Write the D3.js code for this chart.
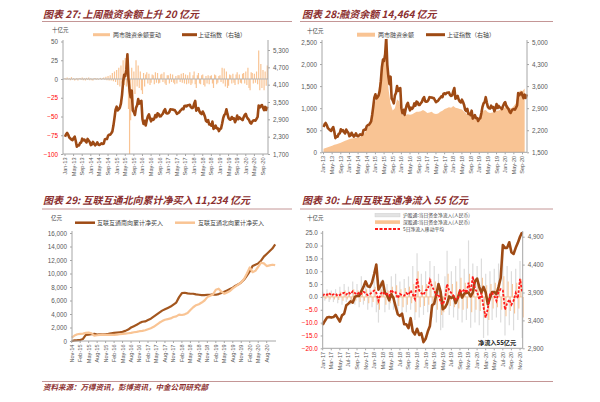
<!DOCTYPE html>
<html><head><meta charset="utf-8">
<script src="https://cdn.jsdelivr.net/npm/d3@7/dist/d3.min.js"></script>
<style>body{margin:0;background:#fff}svg{display:block}</style>
</head><body>
<svg id="c" width="600" height="402"></svg>
<script>
// ---------------- DATA ----------------
const p1Ticks = ["Jan-13","May-13","Sep-13","Jan-14","May-14","Sep-14","Jan-15","May-15","Sep-15","Jan-16","May-16","Sep-16","Jan-17","May-17","Sep-17","Jan-18","May-18","Sep-18","Jan-19","May-19","Sep-19","Jan-20","May-20","Sep-20"];
const p3Ticks = ["Nov-14","Feb-15","May-15","Aug-15","Nov-15","Feb-16","May-16","Aug-16","Nov-16","Feb-17","May-17","Aug-17","Nov-17","Feb-18","May-18","Aug-18","Nov-18","Feb-19","May-19","Aug-19","Nov-19","Feb-20","May-20","Aug-20"];
const p4Ticks = ["Jan-17","Mar-17","May-17","Jul-17","Sep-17","Nov-17","Jan-18","Mar-18","May-18","Jul-18","Sep-18","Nov-18","Jan-19","Mar-19","May-19","Jul-19","Sep-19","Nov-19","Jan-20","Mar-20","May-20","Jul-20","Sep-20","Nov-20"];

const p1LeftTicks = [50,25,0,-25,-50,-75,-100];
const p1RightTicks = [5300,4700,4100,3500,2900,2300,1700];
const p2LeftTicks = [2500,2000,1500,1000,500,0];
const p2RightTicks = [5000,4300,3600,2900,2200,1500];
const p3Ticks_y = [16000,14000,12000,10000,8000,6000,4000,2000,0];
const p4LeftTicks = [25,20,15,10,5,0,-5,-10,-15,-20];
const p4RightTicks = [4900,4400,3900,3400,2900];

// Shanghai Composite, semi-monthly, Jan-13 .. Nov-20
const shIndex = [
2300,2385,2430,2365,2270,2237,2200,2178,2250,2300,2150,1950,2000,1994,2080,2098,2230,2175,2200,2142,2100,2221,2160,2116,
2010,2033,2120,2056,2000,2033,2100,2026,2010,2039,2070,2048,2060,2202,2220,2217,2330,2364,2370,2420,2480,2683,2950,3235,
3340,3210,3250,3310,3450,3748,4200,4442,4400,4612,5150,4277,3900,3664,3900,3206,3150,3053,3300,3383,3600,3445,3520,3539,
2900,2738,2850,2688,2870,3004,3070,2938,2830,2917,2880,2930,3050,2979,3110,3085,3000,3005,3060,3100,3200,3250,3120,3104,
3110,3159,3250,3242,3240,3223,3220,3155,3090,3117,3140,3192,3230,3273,3250,3361,3370,3349,3390,3393,3400,3317,3290,3307,
3440,3540,3200,3259,3290,3169,3110,3082,3170,3095,3000,2847,2810,2876,2720,2725,2680,2821,2570,2603,2680,2588,2590,2494,
2560,2585,2750,2941,3050,3091,3250,3078,2940,2899,2890,2979,2920,2933,2800,2886,3030,2905,2970,2929,2910,2871,2970,3050,
3090,2977,2920,2880,2790,2750,2820,2860,2870,2852,2920,2985,3380,3310,3360,3396,3300,3218,3330,3225,3340];

// change of margin financing balance (十亿元), semi-monthly
const marginChg = [
1.5,-1,2,-0.5,1,-1.5,2.5,-1,1,-2,-1,1.5,-2,1,1.5,-1,2,-1.5,1,-2,1.5,-1,2,-1.5,
1,-1.5,-2,1,1.5,-1,1,-1,0.5,1.5,-1,1,2,-1,3,-1.5,4,-2,5,-2,8,-3,10,-4,
12,-8,15,-10,18,-6,25,-8,28,-10,32,-40,-100,-55,15,-30,10,-20,25,-10,18,-12,10,-15,
-20,8,-10,6,9,-6,7,-8,-5,6,5,-7,9,-5,8,-6,-5,6,7,-4,9,-6,-8,5,
5,-6,7,-4,6,-5,-7,4,-6,5,5,-4,7,-5,8,-6,6,-7,5,-6,9,-8,-6,5,
10,-7,-12,5,8,-6,-7,5,6,-8,-10,4,-6,5,-7,4,5,-6,-12,6,5,-7,-5,4,
5,-4,15,-6,14,-10,10,-12,-9,6,5,-6,7,-5,-8,6,9,-7,6,-5,-6,7,8,-6,
10,-8,15,-12,-15,9,8,-6,7,-5,10,-7,38,-15,20,-12,12,-15,10,-9,18];

// margin financing balance (十亿元), monthly Jan-13 .. Oct-20
const marginBal = [
80,95,115,130,150,170,185,200,215,240,260,280,
300,310,320,330,335,345,390,430,520,600,780,1020,
1150,1300,1600,1950,2100,2200,1450,1100,950,1000,1200,1150,
880,820,850,860,850,860,890,920,920,930,960,930,
890,900,920,880,870,880,920,940,980,1000,1020,1010,
1050,1010,1000,980,970,920,880,840,820,780,760,750,
740,850,950,960,910,890,900,910,940,950,980,990,
1020,1070,1000,1000,1050,1120,1350,1400,1390,1446];

// cumulative connect net buying (亿元), monthly Nov-14 .. Nov-20
const southCum = [0,100,
120,150,300,900,950,1000,1050,950,1000,1000,1000,1050,
1150,1200,1250,1300,1350,1500,1700,2000,2200,2400,2650,2850,
2900,3100,3300,3600,3900,4200,4500,4700,4900,5100,5400,5700,
6500,7100,7150,7050,7000,7000,6900,6850,6800,6800,6850,6850,
6900,6850,6950,7100,7300,7500,7700,7900,8200,8400,8700,9100,
9700,10300,11100,11300,11500,11900,12500,12900,13300,13700,14300];
const northCum = [500,800,
1000,1050,1100,1200,1250,1150,800,850,900,950,900,900,
900,900,950,1000,1050,1100,1150,1200,1300,1350,1450,1500,
1600,1750,1900,2100,2400,2700,2950,3150,3250,3350,3550,3650,
3900,3850,3950,4150,4600,5000,5300,5450,5700,6000,6500,6700,
6900,7600,7750,7300,7000,7200,7400,7800,8100,8400,8700,9200,
10000,10900,10200,10400,11000,11600,11500,11100,11200,11300,11234];

// daily connect flows (十亿元), semi-monthly samples Jan-17 .. Nov-20
const shConnect = [
2,-1.5,3,-2,2.5,-2,3,-2.5,4,-3,5,-2,4,-3,6,-3,5,-4,8,-3,6,-5,5,-4,
8,-6,-10,6,7,-6,5,-5,8,-5,9,-7,6,-8,7,-6,8,-5,12,-9,17,-8,9,-7,
10,-6,14,-8,12,-10,9,-13,-12,8,18,-7,10,-8,12,-9,15,-10,11,-9,22,-12,13,-10,
12,-11,15,-16,9,-15,10,-9,11,-8,13,-10,20,-15,12,-11,10,-13,11,-9,14,-16];
const szConnect = [
1,-0.8,1.5,-1,1.2,-1,1.5,-1.2,2,-1.5,2.5,-1,2,-1.5,3,-1.5,2.5,-2,3,-1.5,3,-2.5,2.5,-2,
4,-3,-5,3,3.5,-3,2.5,-2.5,4,-2.5,4.5,-3.5,3,-4,3.5,-3,4,-2.5,5,-6,10,-4,4.5,-3.5,
5,-3,7,-4,6,-5,4.5,-7,-6,4,9,-3.5,5,-4,6,-4.5,7.5,-5,5.5,-4.5,9,-6,6.5,-5,
6,-5.5,7.5,-8,4.5,-9,5,-4.5,5.5,-4,6.5,-5,8,-7.5,6,-5.5,5,-6.5,5.5,-4.5,7,-8];
const ma5 = [
0.5,1.2,0.8,1.5,0.6,1,1.2,0.4,0.8,1.3,1.6,0.9,1.8,1.1,2.2,1.5,0.9,1.8,1.2,2,1.5,0.7,1.1,1.8,
2.5,1.6,-1.5,1.2,2,0.8,1.2,0.4,2.8,1.6,1.8,-0.5,1.2,0.6,0.5,1.5,0.8,2.5,1,-0.8,7,2.5,1.5,0.8,
2.5,3,6.5,4,2.5,0.5,1,-2,-3,-1,5,2.5,1.5,0.5,-1,-0.5,2.5,1.8,3,1.5,5.5,2,8,3,
2,-1,1.5,-4,-8,-4.5,1,1.5,0.5,-1.5,2,3,2.5,-5,-2.5,-1,-3,-1.5,1.5,-0.5,7,2];
// CSI 300, semi-monthly Jan-17 .. Nov-20
const csi300 = [
3320,3390,3450,3460,3450,3460,3500,3440,3380,3490,3520,3670,3700,3740,3720,3820,3840,3840,3920,4000,4100,4010,4000,4080,
4230,4400,3950,4020,4100,3900,3850,3760,3870,3800,3650,3510,3480,3520,3330,3330,3260,3440,3200,3150,3250,3140,3170,3010,
3070,3200,3300,3670,3700,3870,4050,3910,3600,3630,3700,3830,3800,3830,3710,3800,3930,3810,3880,3890,3900,3830,3900,4100,
4150,4000,3900,4000,3900,3690,3800,3910,3910,3870,4000,4160,4750,4700,4700,4800,4620,4590,4700,4790,4900,4980];

// ---------------- DRAW ----------------
const svg = d3.select("#c");
const NUM = "'Liberation Sans', Arial, sans-serif";
const CJK = "'Noto Sans CJK SC', sans-serif";
const TITLE_C = "#8b2e2e", RULE_C = "#c49696", AXIS_C = "#a6a6a6", TXT_C = "#595959";
const BROWN = "#9e4a14", LIGHT = "#f9c494", RED = "#ff1a1a";

function title(x, y, t, lx0, lx1, ly) {
  svg.append("text").attr("x", x).attr("y", y).text(t)
    .attr("font-family", CJK).attr("font-style", "italic").attr("font-weight", "bold")
    .attr("font-size", 10).attr("fill", TITLE_C);
  svg.append("line").attr("x1", lx0).attr("x2", lx1).attr("y1", ly).attr("y2", ly)
    .attr("stroke", RULE_C).attr("stroke-width", 1);
}
function label(x, y, t, size, opts = {}) {
  return svg.append("text").attr("x", x).attr("y", y).text(t)
    .attr("font-family", opts.cjk === false ? NUM : CJK).attr("font-size", size)
    .attr("fill", opts.fill || "#404040").attr("text-anchor", opts.anchor || "start")
    .attr("font-weight", opts.weight || "normal");
}
function vline(x, y0, y1) {
  svg.append("line").attr("x1", x).attr("x2", x).attr("y1", y0).attr("y2", y1)
    .attr("stroke", AXIS_C).attr("stroke-width", 1);
}
function yAxis(x, scale, ticks, side, fmt, y0, y1, negRed) {
  const ax = (side === "left" ? d3.axisLeft(scale) : d3.axisRight(scale))
    .tickValues(ticks).tickSize(2).tickPadding(3).tickFormat(fmt);
  const g = svg.append("g").attr("transform", `translate(${x},0)`).call(ax);
  g.select(".domain").remove();
  g.selectAll("line").attr("stroke", AXIS_C);
  g.selectAll("text").attr("font-family", NUM).attr("font-size", 6.3)
    .attr("fill", d => (negRed && d < 0) ? "#ff0000" : TXT_C);
  vline(x, y0, y1);
}
function xAxis(y, x0, x1, scale, vals, labels) {
  svg.append("line").attr("x1", x0).attr("x2", x1).attr("y1", y).attr("y2", y)
    .attr("stroke", AXIS_C).attr("stroke-width", 1);
  const g = svg.append("g");
  vals.forEach((v, i) => {
    const x = scale(v);
    g.append("line").attr("x1", x).attr("x2", x).attr("y1", y).attr("y2", y + 2)
      .attr("stroke", AXIS_C);
    g.append("text").attr("transform", `translate(${x},${y + 3.5}) rotate(-90)`)
      .attr("text-anchor", "end").attr("dy", "0.35em").text(labels[i])
      .attr("font-family", NUM).attr("font-size", 5.6).attr("fill", TXT_C);
  });
}
const fmtC = d3.format(",");
const fmt1 = d3.format(".1f");

// ===== Panel 1 =====
title(43, 17.5, "图表 27: 上周融资余额上升 20 亿元", 42, 292, 21.5);
const x1 = d3.scaleLinear().domain([0, 92]).range([65, 263]);
const yL1 = d3.scaleLinear().domain([-100, 50]).range([154, 41.5]);
const yR1 = d3.scaleLinear().domain([1700, 5300]).range([154, 50]);
label(52, 31.5, "十亿元", 5.5);
svg.append("line").attr("x1", 93).attr("x2", 110).attr("y1", 34.7).attr("y2", 34.7).attr("stroke", LIGHT).attr("stroke-width", 3);
label(113, 36.8, "两市融资余额变动", 6);
svg.append("line").attr("x1", 182).attr("x2", 197).attr("y1", 34.7).attr("y2", 34.7).attr("stroke", BROWN).attr("stroke-width", 3);
label(198, 36.8, "上证指数（右轴）", 6);
svg.append("g").selectAll("line").data(marginChg).join("line")
  .attr("x1", (d, i) => x1(i * 0.5)).attr("x2", (d, i) => x1(i * 0.5))
  .attr("y1", yL1(0)).attr("y2", d => yL1(d)).attr("stroke", LIGHT).attr("stroke-width", 1.2);
svg.append("line").attr("x1", 63).attr("x2", 268).attr("y1", yL1(0)).attr("y2", yL1(0)).attr("stroke", "#b3b3b3").attr("stroke-width", 1.2);
svg.append("path").datum(shIndex)
  .attr("d", d3.line().x((d, i) => x1(i * 0.5)).y(d => yR1(d)))
  .attr("fill", "none").attr("stroke", BROWN).attr("stroke-width", 2.6).attr("stroke-linejoin", "round");
yAxis(63, yL1, p1LeftTicks, "left", fmtC, 40, 154, true);
yAxis(268, yR1, p1RightTicks, "right", fmtC, 40, 154, false);
xAxis(154, 63, 268, x1, d3.range(0, 93, 4), p1Ticks);

// ===== Panel 2 =====
title(302, 17.5, "图表 28:融资余额 14,464 亿元", 300, 553, 21.5);
const x2 = d3.scaleLinear().domain([0, 92]).range([323.5, 522.5]);
const yL2 = d3.scaleLinear().domain([0, 2500]).range([152.3, 42]);
const yR2 = d3.scaleLinear().domain([1500, 5000]).range([152.3, 42]);
label(307, 32.5, "十亿元", 5.5);
svg.append("rect").attr("x", 357).attr("y", 32.7).attr("width", 18).attr("height", 4).attr("fill", LIGHT);
label(378, 36.8, "两市融资余额", 6);
svg.append("line").attr("x1", 426).attr("x2", 445).attr("y1", 34.7).attr("y2", 34.7).attr("stroke", BROWN).attr("stroke-width", 3);
label(447, 36.8, "上证指数（右轴）", 6);
svg.append("path").datum(marginBal)
  .attr("d", d3.area().x((d, i) => x2(i)).y0(yL2(0)).y1(d => yL2(d)))
  .attr("fill", LIGHT);
svg.append("clipPath").attr("id", "cp2").append("rect").attr("x", 320).attr("y", 39).attr("width", 210).attr("height", 115);
svg.append("path").datum(shIndex).attr("clip-path", "url(#cp2)")
  .attr("d", d3.line().x((d, i) => x2(i * 0.5)).y(d => yR2(d)))
  .attr("fill", "none").attr("stroke", BROWN).attr("stroke-width", 2.6).attr("stroke-linejoin", "round");
yAxis(322, yL2, p2LeftTicks, "left", fmtC, 40, 152.3, false);
yAxis(527, yR2, p2RightTicks, "right", fmtC, 40, 152.3, false);
xAxis(152.3, 322, 527, x2, d3.range(0, 93, 4), p1Ticks);

// ===== Panel 3 =====
title(43, 204, "图表 29: 互联互通北向累计净买入 11,234 亿元", 42, 292, 209);
const x3 = d3.scaleLinear().domain([0, 69]).range([71.7, 266.7]);
const y3 = d3.scaleLinear().domain([0, 16000]).range([341, 233]);
label(51, 220, "亿元", 5.5);
svg.append("line").attr("x1", 75).attr("x2", 95).attr("y1", 222.7).attr("y2", 222.7).attr("stroke", BROWN).attr("stroke-width", 2.5);
label(97, 224.8, "互联互通南向累计净买入", 6);
svg.append("line").attr("x1", 175).attr("x2", 195).attr("y1", 222.7).attr("y2", 222.7).attr("stroke", LIGHT).attr("stroke-width", 2.5);
label(198, 224.8, "互联互通北向累计净买入", 6);
svg.append("path").datum(southCum)
  .attr("d", d3.line().x((d, i) => x3(i)).y(d => y3(d)))
  .attr("fill", "none").attr("stroke", "#a3561e").attr("stroke-width", 2.2).attr("stroke-linejoin", "round");
svg.append("path").datum(northCum)
  .attr("d", d3.line().x((d, i) => x3(i)).y(d => y3(d)))
  .attr("fill", "none").attr("stroke", LIGHT).attr("stroke-width", 2.2).attr("stroke-linejoin", "round");
yAxis(72, y3, p3Ticks_y, "left", fmtC, 231, 341, false);
xAxis(341, 72, 276, x3, d3.range(0, 70, 3), p3Ticks);

// ===== Panel 4 =====
title(302, 204, "图表 30: 上周互联互通净流入 55 亿元", 300, 553, 209);
const x4 = d3.scaleLinear().domain([0, 46]).range([322.7, 520]);
const yL4 = d3.scaleLinear().domain([-20, 25]).range([348.3, 232.7]);
const yR4 = d3.scaleLinear().domain([2900, 4900]).range([348.3, 236.7]);
label(307, 220, "十亿元", 5.5);
svg.append("rect").attr("x", 375).attr("y", 213.3).attr("width", 25).attr("height", 3.6).attr("fill", "#e3e3e3").attr("stroke", "#cfcfcf").attr("stroke-width", 0.5);
label(403, 216.6, "沪股通:当日资金净流入(人民币)", 4.8);
svg.append("rect").attr("x", 375).attr("y", 220.3).attr("width", 25).attr("height", 3.6).attr("fill", LIGHT);
label(403, 223.6, "深股通:当日资金净流入(人民币)", 4.8);
svg.append("line").attr("x1", 375).attr("x2", 400).attr("y1", 229).attr("y2", 229).attr("stroke", RED).attr("stroke-width", 2).attr("stroke-dasharray", "3,1.5");
label(403, 230.6, "5日净流入移动平均", 4.8);
svg.append("g").selectAll("line").data(shConnect).join("line")
  .attr("x1", (d, i) => x4(i * 0.5)).attr("x2", (d, i) => x4(i * 0.5))
  .attr("y1", yL4(0)).attr("y2", d => yL4(d)).attr("stroke", "#dcdcdc").attr("stroke-width", 1.2);
svg.append("g").selectAll("line").data(szConnect).join("line")
  .attr("x1", (d, i) => x4(i * 0.5) + 1).attr("x2", (d, i) => x4(i * 0.5) + 1)
  .attr("y1", yL4(0)).attr("y2", d => yL4(d)).attr("stroke", LIGHT).attr("stroke-width", 1.1);
svg.append("line").attr("x1", 322.7).attr("x2", 522.7).attr("y1", yL4(0)).attr("y2", yL4(0)).attr("stroke", "#f3c29a").attr("stroke-width", 1);
svg.append("path").datum(csi300)
  .attr("d", d3.line().x((d, i) => x4(i * 0.5)).y(d => yR4(d)))
  .attr("fill", "none").attr("stroke", BROWN).attr("stroke-width", 2.6).attr("stroke-linejoin", "round");
svg.append("path").datum(ma5)
  .attr("d", d3.line().x((d, i) => x4(i * 0.5)).y(d => yL4(d)))
  .attr("fill", "none").attr("stroke", RED).attr("stroke-width", 1.8).attr("stroke-dasharray", "2.5,1.5");
yAxis(322.7, yL4, p4LeftTicks, "left", fmt1, 231, 348.3, true);
yAxis(522.7, yR4, p4RightTicks, "right", fmtC, 231, 348.3, false);
xAxis(348.3, 322.7, 522.7, x4, d3.range(0, 47, 2), p4Ticks);
label(478, 345, "净流入55亿元", 6.2, {weight: "bold", fill: "#222"});

// ===== Footer =====
svg.append("line").attr("x1", 42).attr("x2", 553).attr("y1", 381.5).attr("y2", 381.5).attr("stroke", RULE_C).attr("stroke-width", 1);
svg.append("text").attr("x", 43).attr("y", 390).text("资料来源：万得资讯，彭博资讯，中金公司研究部")
  .attr("font-family", CJK).attr("font-style", "italic").attr("font-weight", "bold")
  .attr("font-size", 7.5).attr("fill", TITLE_C);
</script>
</body></html>
